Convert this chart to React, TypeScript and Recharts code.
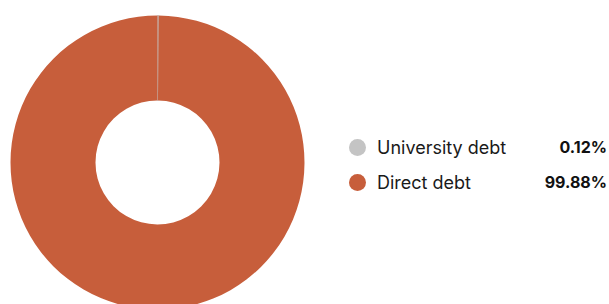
import { Cell, Pie, PieChart } from "recharts";

const labels = ["University debt", "Direct debt"];
const shares = [0.12, 99.88];
const colors = ["#C4C4C4", "#C75E3B"];

const data = labels.map((name, i) => ({ name, value: shares[i] }));

const font = "Inter, 'Noto Sans', sans-serif";

export default function App() {
  return (
    <div style={{ position: "absolute", left: 0, top: 0, width: 609, height: 304, background: "#fff", fontFamily: font }}>
      <PieChart
        width={609}
        height={304}
        margin={{ top: 0, right: 0, bottom: 0, left: 0 }}
        style={{ position: "absolute", left: 0, top: 0 }}
      >
        <Pie
          data={data}
          dataKey="value"
          nameKey="name"
          cx={157.5}
          cy={162.5}
          innerRadius={62}
          outerRadius={147}
          startAngle={90}
          endAngle={-270}
          stroke="none"
          isAnimationActive={false}
        >
          {data.map((d, i) => (
            <Cell key={d.name} fill={colors[i]} stroke={i === 0 ? colors[i] : "none"} strokeWidth={i === 0 ? 1 : 0} />
          ))}
        </Pie>
      </PieChart>
      <div style={{ position: "absolute", left: 349, top: 136, width: 258 }}>
        {data.map((d, i) => (
          <div key={d.name} style={{ display: "flex", alignItems: "center", height: 22, marginBottom: 13, color: "#1a1a1a" }}>
            <span style={{ width: 17, height: 17, borderRadius: "50%", background: colors[i], marginRight: 11, flex: "none" }} />
            <span style={{ flex: 1, fontSize: 18 }}>{d.name}</span>
            <span style={{ fontWeight: 700, fontSize: 16, color: "#111" }}>{d.value.toFixed(2)}%</span>
          </div>
        ))}
      </div>
    </div>
  );
}
